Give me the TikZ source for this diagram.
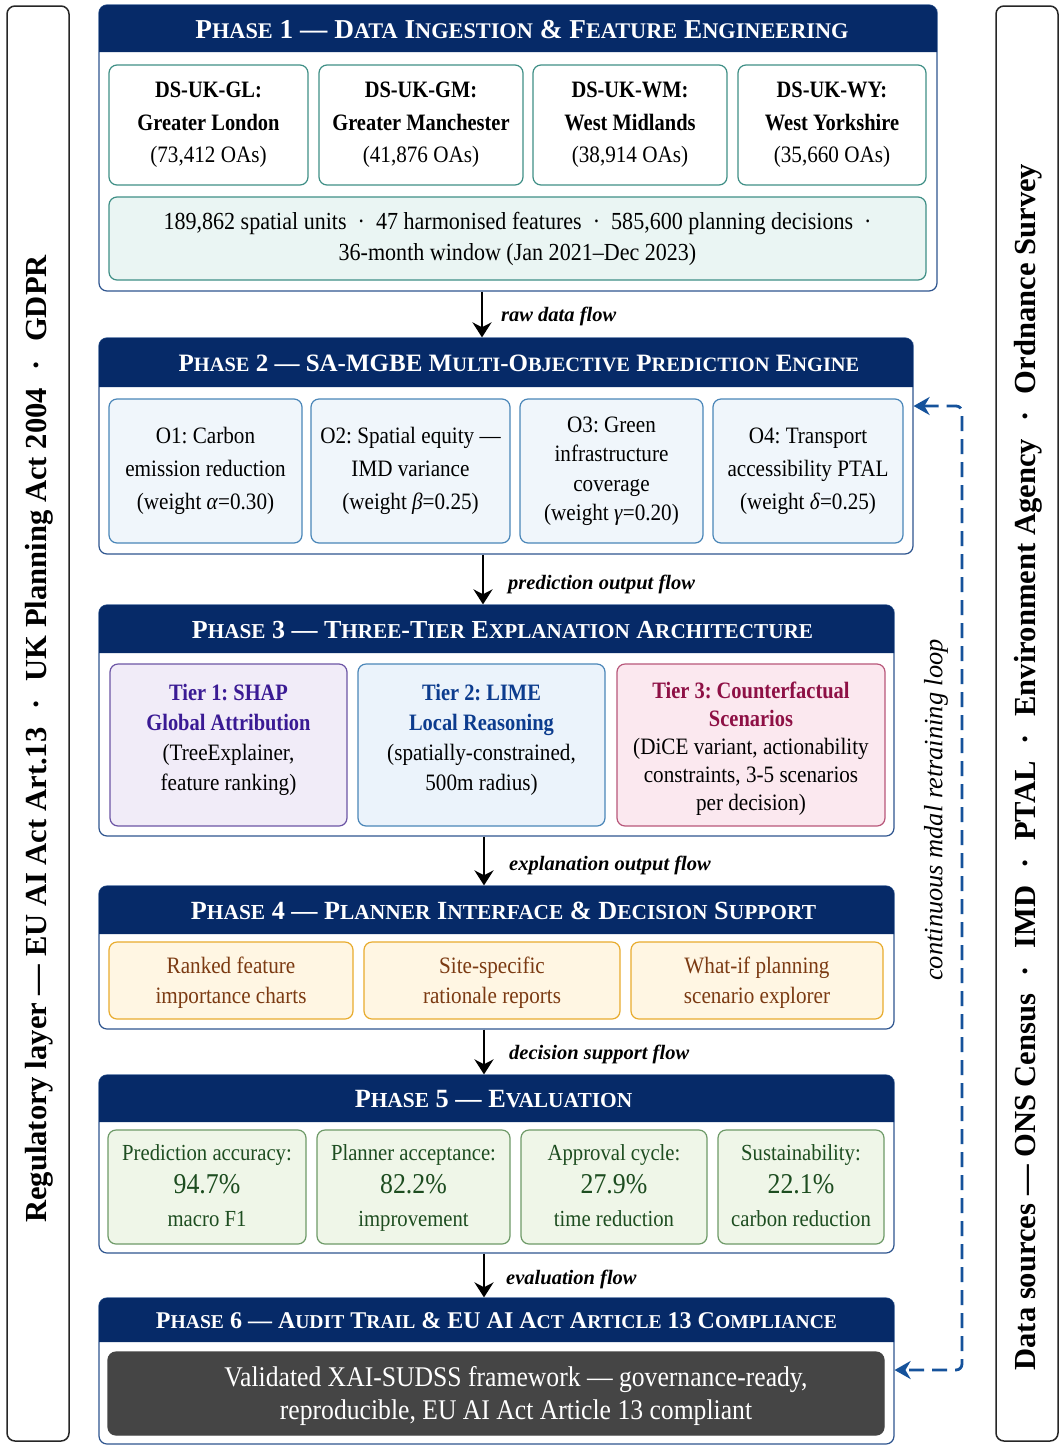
\documentclass[tikz,border=0pt]{standalone}
\usepackage{fontspec}
\setmainfont[FakeStretch=0.9,BoldFeatures={FakeStretch=0.87}]{Liberation Serif}
\newfontfamily\plainf{Liberation Serif}
\AtBeginDocument{\frenchspacing}
\usetikzlibrary{arrows.meta}
\definecolor{navy}{HTML}{062A68}
\definecolor{panelb}{HTML}{2F558F}
\definecolor{tealb}{HTML}{3F8F86}
\definecolor{tealf}{HTML}{EAF5F3}
\definecolor{blueb}{HTML}{4A86B8}
\definecolor{bluef}{HTML}{F0F6FB}
\definecolor{purpb}{HTML}{6C55A5}
\definecolor{purpf}{HTML}{F1ECF8}
\definecolor{purpt}{HTML}{3A1A94}
\definecolor{lbluef}{HTML}{EBF3FB}
\definecolor{lbluet}{HTML}{0C3C8E}
\definecolor{pinkb}{HTML}{B8577A}
\definecolor{pinkf}{HTML}{FBE8EF}
\definecolor{pinkt}{HTML}{8E1045}
\definecolor{orb}{HTML}{E8AC2E}
\definecolor{orf}{HTML}{FFF6E3}
\definecolor{ort}{HTML}{7B3A12}
\definecolor{grb}{HTML}{6E9A68}
\definecolor{grf}{HTML}{EFF6E8}
\definecolor{grt}{HTML}{1D4D20}
\definecolor{darkb}{HTML}{454545}
\definecolor{loopc}{HTML}{15529B}
\newcommand\fs[2]{\fontsize{#1}{#2}\selectfont}
\newcommand\s[1]{{\fontsize{\smallsz}{\smallsz}\selectfont #1}}
\newcommand\tp[1]{\rule{0pt}{#1pt}}
\newcommand\bt[1]{\rule[-#1pt]{0pt}{0pt}}
\newcommand\sdot[1]{\hspace{#1pt}·\hspace{#1pt}}
\newcommand\bx[7]{%
  \pgfmathsetmacro\mycx{(#3+#5)/2}\pgfmathsetmacro\mycy{(#4+#6)/2}%
  \pgfmathsetmacro\mybw{#5-#3}\pgfmathsetmacro\mybh{#6-#4}%
  \node[#2,minimum width=\mybw pt,minimum height=\mybh pt] (#1) at (\mycx,\mycy) {#7};}
% name, x1,y1,x2,y2,header bottom, title font size, small size, title
\newcommand\panel[9]{%
  \bx{#1}{panel}{#2}{#3}{#4}{#5}{}%
  \fill[navy,rounded corners=8pt] (#2,#6) -- (#2,#3) -- (#4,#3) -- (#4,#3+12) [sharp corners] -- (#4,#6) -- cycle;
  \def\smallsz{#8}%
  \pgfmathsetmacro\mytx{(#2+#4)/2+\hshiftv}\pgfmathsetmacro\myty{(#3+#6)/2+1}%
  \node[headtext,font=\plainf\bfseries\fs{#7}{#7}] (#1h) at (\mytx,\myty) {#9};}
\tikzset{
  x=1pt,y=-1pt,
  panel/.style={draw=panelb,line width=1.2pt,fill=white,rounded corners=8pt,inner sep=0pt},
  headtext/.style={text=white,inner sep=0pt},
  ibox/.style={rounded corners=8pt,inner sep=0pt,align=center,line width=1.2pt},
  ds/.style={ibox,draw=tealb,fill=white,font=\fs{23.5}{32.5}},
  dswide/.style={ibox,draw=tealb,fill=tealf,font=\fs{24.5}{31}},
  obj/.style={ibox,draw=blueb,fill=bluef,font=\fs{23.5}{33}},
  objb/.style={ibox,draw=blueb,fill=bluef,font=\fs{23.5}{29.5}},
  tierA/.style={ibox,draw=purpb,fill=purpf,font=\fs{23.5}{30}},
  tierB/.style={ibox,draw=blueb,fill=lbluef,font=\fs{23.5}{30}},
  tierC/.style={ibox,draw=pinkb,fill=pinkf,font=\fs{23.5}{28}},
  ui/.style={ibox,draw=orb,fill=orf,text=ort,font=\fs{23.5}{30}},
  ev/.style={ibox,draw=grb,fill=grf,text=grt,font=\fs{23}{33}},
  final/.style={ibox,draw=darkb,fill=darkb},
  finaltext/.style={inner sep=0pt,align=center,text=white,font=\fs{28.5}{33}},
  side/.style={draw=black!85,line width=1.5pt,fill=white,rounded corners=8pt,inner sep=0pt},
  sidetext/.style={rotate=90,inner sep=0pt,font=\plainf\bfseries\fs{30.6}{30.6}},
  flow/.style={-{Stealth[length=15pt,width=19pt]},line width=2.5pt,black},
  flowlabel/.style={anchor=west,inner sep=0pt,font=\plainf\bfseries\itshape\fs{20.5}{20.5}},
  loop/.style={{Stealth[length=16pt,width=18pt]}-{Stealth[length=16pt,width=18pt]},line width=2.8pt,loopc,dash pattern=on 15pt off 8pt,rounded corners=6pt},
}
\begin{document}
\begin{tikzpicture}
\useasboundingbox (0,0) rectangle (1062,1452);
\fill[white] (0,0) rectangle (1062,1452);
% side bars
\bx{sl}{side}{7}{6}{69}{1441}{}
\bx{sr}{side}{996}{6}{1058}{1441}{}
\node[sidetext] (slt) at (39,739) {Regulatory layer — EU AI Act Art.13\sdot{18}UK Planning Act 2004\sdot{18}GDPR};
\node[sidetext] (srt) at (1028,767) {Data sources — ONS Census\sdot{17.4}IMD\sdot{17.4}PTAL\sdot{17.4}Environment Agency\sdot{17.4}Ordnance Survey};
% phase 1
\def\hshiftv{4}
\panel{p1}{99}{5}{937}{291}{52}{27.3}{22.3}{P\s{HASE} 1 — D\s{ATA} I\s{NGESTION} \& F\s{EATURE} E\s{NGINEERING}}
\bx{a1}{ds}{109}{65}{308}{185}{\textbf{DS-UK-GL:}\\\textbf{Greater London}\\(73,412 OAs)}
\bx{a2}{ds}{319}{65}{523}{185}{\textbf{DS-UK-GM:}\\\textbf{Greater Manchester}\\(41,876 OAs)}
\bx{a3}{ds}{533}{65}{727}{185}{\textbf{DS-UK-WM:}\\\textbf{West Midlands}\\(38,914 OAs)}
\bx{a4}{ds}{738}{65}{926}{185}{\textbf{DS-UK-WY:}\\\textbf{West Yorkshire}\\(35,660 OAs)}
\bx{a5}{dswide}{109}{197}{926}{280}{189,862 spatial units \ · \ 47 harmonised features \ · \ 585,600 planning decisions \ ·\\36-month window (Jan 2021–Dec 2023)}
% phase 2
\def\hshiftv{13}
\panel{p2}{99}{338}{913}{554}{387}{25}{20.4}{P\s{HASE} 2 — SA-MGBE M\s{ULTI}-O\s{BJECTIVE} P\s{REDICTION} E\s{NGINE}}
\bx{b1}{obj}{109}{399}{302}{543}{O1: Carbon\\emission reduction\\(weight \textit{α}=0.30)}
\bx{b2}{obj}{311}{399}{510}{543}{O2: Spatial equity —\\IMD variance\\(weight \textit{β}=0.25)}
\bx{b3}{objb}{520}{399}{703}{543}{O3: Green\\infrastructure\\coverage\\(weight \textit{γ}=0.20)}
\bx{b4}{obj}{713}{399}{903}{543}{O4: Transport\\accessibility PTAL\\(weight \textit{δ}=0.25)}
% phase 3
\def\hshiftv{6}
\panel{p3}{99}{605}{894}{836}{653}{26}{21.2}{P\s{HASE} 3 — T\s{HREE}-T\s{IER} E\s{XPLANATION} A\s{RCHITECTURE}}
\bx{c1}{tierA}{110}{664}{347}{826}{\textcolor{purpt}{\textbf{Tier 1: SHAP}}\\\textcolor{purpt}{\textbf{Global Attribution}}\\(TreeExplainer,\\feature ranking)\bt{15}}
\bx{c2}{tierB}{358}{664}{605}{826}{\textcolor{lbluet}{\textbf{Tier 2: LIME}}\\\textcolor{lbluet}{\textbf{Local Reasoning}}\\(spatially-constrained,\\500m radius)\bt{15}}
\bx{c3}{tierC}{617}{664}{885}{826}{\tp{24}\textcolor{pinkt}{\textbf{Tier 3: Counterfactual}}\\\textcolor{pinkt}{\textbf{Scenarios}}\\(DiCE variant, actionability\\constraints, 3-5 scenarios\\per decision)}
% phase 4
\def\hshiftv{7}
\panel{p4}{99}{886}{894}{1029}{934}{26.2}{21.4}{P\s{HASE} 4 — P\s{LANNER} I\s{NTERFACE} \& D\s{ECISION} S\s{UPPORT}}
\bx{d1}{ui}{109}{942}{353}{1019}{\tp{20}Ranked feature\\importance charts}
\bx{d2}{ui}{364}{942}{620}{1019}{\tp{20}Site-specific\\rationale reports}
\bx{d3}{ui}{631}{942}{883}{1019}{\tp{20}What-if planning\\scenario explorer}
% phase 5
\def\hshiftv{-3}
\panel{p5}{99}{1075}{894}{1253}{1122}{26.3}{21.4}{P\s{HASE} 5 — E\s{VALUATION}}
\bx{e1}{ev}{108}{1130}{306}{1244}{\strut Prediction accuracy:\\{\fs{28.7}{33}94.7\%}\\\strut macro F1}
\bx{e2}{ev}{317}{1130}{510}{1244}{\strut Planner acceptance:\\{\fs{28.7}{33}82.2\%}\\\strut improvement}
\bx{e3}{ev}{521}{1130}{707}{1244}{\strut Approval cycle:\\{\fs{28.7}{33}27.9\%}\\\strut time reduction}
\bx{e4}{ev}{718}{1130}{884}{1244}{\strut Sustainability:\\{\fs{28.7}{33}22.1\%}\\\strut carbon reduction}
% phase 6
\def\hshiftv{0}
\panel{p6}{99}{1298}{894}{1444}{1342}{24}{19.6}{P\s{HASE} 6 — A\s{UDIT} T\s{RAIL} \& EU AI A\s{CT} A\s{RTICLE} 13 C\s{OMPLIANCE}}
\bx{f1}{final}{108}{1352}{884}{1435}{}
\node[finaltext] (f1t) at (516,1396) {Validated XAI-SUDSS framework — governance-ready,\\reproducible, EU AI Act Article 13 compliant};
% flows
\coordinate (f12) at (482,0);
\coordinate (f23) at (483,0);
\coordinate (f34) at (484,0);
\draw[flow] (p1.south -| f12) -- (p2.north -| f12);
\draw[flow] (p2.south -| f23) -- (p3.north -| f23);
\draw[flow] (p3.south -| f34) -- (p4.north -| f34);
\draw[flow] (p4.south -| f34) -- (p5.north -| f34);
\draw[flow] (p5.south -| f34) -- (p6.north -| f34);
\node[flowlabel] (l1) at (501,316) {raw data flow};
\node[flowlabel] (l2) at (508,584) {prediction output flow};
\node[flowlabel] (l3) at (509,865) {explanation output flow};
\node[flowlabel] (l4) at (509,1054) {decision support flow};
\node[flowlabel] (l5) at (506,1279) {evaluation flow};
% retraining loop
\coordinate (lt) at (962,406);
\coordinate (lb) at (962,1370);
\draw[loop] (p2.east |- lt) -- (lt) -- (lb) -- (p6.east |- lb);
\node[rotate=90,inner sep=0pt,font=\plainf\itshape\fs{26.4}{26.4}] (l6) at (936,810) {continuous mdal retraining loop};
\end{tikzpicture}
\end{document}
